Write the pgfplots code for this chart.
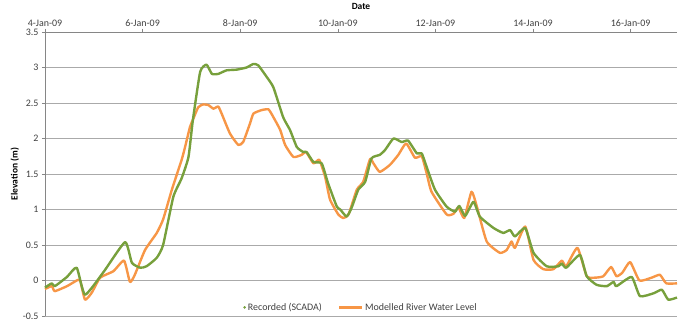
\documentclass[border=0pt]{standalone}
\usepackage{pgfplots}
\pgfplotsset{compat=1.18}
\usepackage{fontspec}
\setmainfont{Carlito}
\definecolor{recgreen}{RGB}{119,160,60}
\definecolor{modorange}{RGB}{247,150,70}
\definecolor{gridgray}{RGB}{170,170,170}
\definecolor{axgray}{RGB}{134,134,134}
\definecolor{txt}{RGB}{64,64,64}
\pgfplotsset{shortleg/.style={legend image code/.code={\draw[##1] (-0.15cm,0cm) -- (0.65cm,0cm);}}}
\pgfplotsset{dotleg/.style={legend image code/.code={\fill[##1] (0.15cm,0cm) circle (1.1pt);}}}
\begin{document}
\begin{tikzpicture}
\begin{axis}[
  name=ax,
  scale only axis,
  width=632bp, height=284bp,
  xmin=0, xmax=12.95,
  ymin=-0.5, ymax=3.5,
  axis x line*=top,
  axis y line*=left,
  axis line style={axgray, line width=0.8pt, -},
  xtick={0,2,4,6,8,10,12},
  xticklabels={4-Jan-09,6-Jan-09,8-Jan-09,10-Jan-09,12-Jan-09,14-Jan-09,16-Jan-09},
  ytick={-0.5,0,0.5,1,1.5,2,2.5,3,3.5},
  yticklabels={-0.5,0,0.5,1,1.5,2,2.5,3,3.5},
  tick align=outside,
  major tick length=3bp,
  tick style={axgray, line width=0.6pt},
  ymajorgrids,
  grid style={gridgray, line width=0.8pt},
  tick label style={font=\fontsize{10}{12}\selectfont, text=txt},
  xticklabel style={yshift=-1bp},
  xlabel={Date},
  xlabel style={font=\fontsize{9.5}{11}\selectfont\bfseries, text=black, yshift=3bp},
  ylabel={Elevation (m)},
  ylabel style={font=\fontsize{9.5}{11}\selectfont\bfseries, text=black, yshift=-3bp},
  legend style={at={(0.5,0.0)}, anchor=south, draw=none, fill=none,
     font=\fontsize{10}{12}\selectfont, text=txt, legend columns=2,
     /tikz/every even column/.append style={column sep=14bp}},
  legend cell align=left,
  clip=false,
]
\addlegendimage{recgreen, dotleg}
\addlegendentry{Recorded (SCADA)}
\addplot[modorange, line width=2.4pt, line join=round, smooth, tension=0.3, shortleg] coordinates {
(0,-0.12) (0.14,-0.08) (0.2,-0.15) (0.45,-0.08) (0.65,0.0) (0.72,0.0) (0.82,-0.27) (0.96,-0.17)
(1.13,0.04) (1.4,0.13) (1.62,0.28) (1.74,-0.02) (1.84,0.08) (2.05,0.43) (2.29,0.67) (2.42,0.86)
(2.6,1.28) (2.8,1.7) (2.87,1.88) (2.97,2.16) (3.04,2.28) (3.14,2.44) (3.24,2.48) (3.35,2.47)
(3.45,2.42) (3.55,2.45) (3.62,2.35) (3.79,2.07) (3.96,1.91) (4.06,1.95) (4.2,2.21) (4.27,2.35)
(4.44,2.4) (4.58,2.41) (4.68,2.3) (4.82,2.12) (4.92,1.91) (5.09,1.74) (5.26,1.77) (5.35,1.81)
(5.5,1.65) (5.62,1.7) (5.74,1.46) (5.84,1.14) (6.01,0.93) (6.11,0.88) (6.22,0.93) (6.39,1.28)
(6.52,1.39) (6.66,1.71) (6.73,1.65) (6.86,1.53) (7.07,1.63) (7.24,1.77) (7.4,1.93) (7.58,1.73)
(7.72,1.75) (7.82,1.51) (7.92,1.25) (8.23,0.93) (8.37,0.94) (8.47,1.03) (8.59,0.88) (8.74,1.25)
(8.85,1.04) (9.05,0.55) (9.32,0.39) (9.46,0.43) (9.56,0.55) (9.63,0.46) (9.84,0.76) (10.01,0.29)
(10.21,0.16) (10.42,0.16) (10.59,0.28) (10.68,0.2) (10.91,0.46) (11.1,0.06) (11.27,0.04) (11.44,0.06)
(11.6,0.19) (11.71,0.06) (11.83,0.11) (11.99,0.26) (12.18,0.0) (12.43,0.04) (12.6,0.08) (12.73,-0.04)
(12.95,-0.04)
};
\addlegendentry{Modelled River Water Level}
\addplot[recgreen, line width=2.4pt, line join=round, smooth, tension=0.3, forget plot] coordinates {
(0,-0.1) (0.14,-0.04) (0.2,-0.08) (0.45,0.05) (0.65,0.18) (0.82,-0.2) (1.2,0.12) (1.64,0.54)
(1.78,0.25) (1.95,0.18) (2.08,0.2) (2.29,0.32) (2.42,0.5) (2.63,1.18) (2.8,1.44) (2.94,1.74)
(3.03,2.26) (3.18,2.94) (3.31,3.04) (3.42,2.91) (3.55,2.91) (3.72,2.96) (3.93,2.97) (4.13,3.0)
(4.27,3.05) (4.37,3.03) (4.54,2.87) (4.68,2.72) (4.88,2.3) (5.02,2.12) (5.16,1.88) (5.29,1.81)
(5.36,1.81) (5.5,1.67) (5.67,1.65) (5.8,1.37) (5.98,1.04) (6.05,1.0) (6.18,0.9) (6.28,1.02)
(6.42,1.28) (6.56,1.39) (6.69,1.72) (6.86,1.77) (6.97,1.84) (7.14,2.0) (7.31,1.95) (7.44,1.97)
(7.62,1.79) (7.72,1.79) (7.82,1.6) (7.99,1.28) (8.23,1.04) (8.4,0.97) (8.49,1.05) (8.61,0.91)
(8.78,1.11) (8.91,0.9) (9.19,0.74) (9.39,0.67) (9.53,0.71) (9.63,0.62) (9.84,0.74) (10.01,0.39)
(10.28,0.2) (10.52,0.2) (10.59,0.24) (10.68,0.18) (10.96,0.36) (11.1,0.06) (11.3,-0.06) (11.51,-0.08)
(11.65,-0.02) (11.71,-0.08) (12.02,0.05) (12.19,-0.22) (12.47,-0.18) (12.64,-0.13) (12.77,-0.27)
(12.95,-0.24)
};
\end{axis}
\pgfresetboundingbox
\path ([shift={(-45bp,-8bp)}]ax.south west) rectangle ([shift={(1bp,32bp)}]ax.north east);
\end{tikzpicture}
\end{document}
